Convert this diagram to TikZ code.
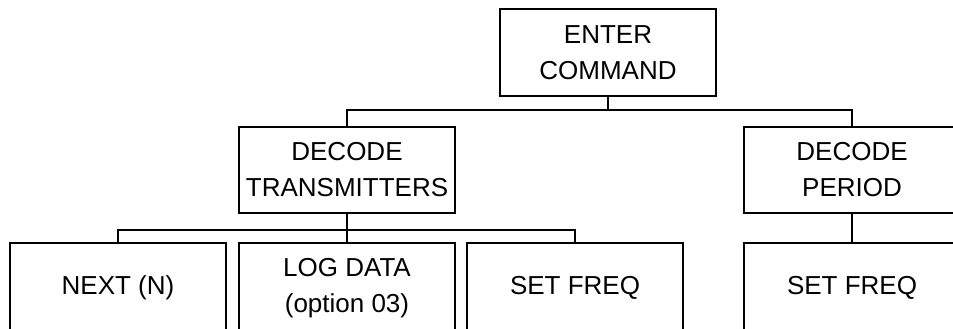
\documentclass[tikz,border=0pt]{standalone}
\usepackage{fontspec}
\setmainfont{Liberation Sans}
\usetikzlibrary{calc}

\tikzset{
    cmdbox/.style={draw,rectangle,line width=1.8pt,minimum width=216pt,minimum height=86pt,
        inner sep=0pt,align=center,font=\fontsize{26}{36}\selectfont},
    link/.style={line width=1.8pt}
}

\begin{document}
\begin{tikzpicture}[x=1pt,y=1pt]
    \useasboundingbox (0,0) rectangle (953,-329);
    \clip (0,0) rectangle (953,-329); % Clips the picture...

    % top level
    \node[cmdbox,minimum height=87pt] (enter) at (608,-52.5) {ENTER\\COMMAND};

    % second level
    \node[cmdbox] (dectx) at (347,-170) {DECODE\\TRANSMITTERS};
    \node[cmdbox] (decper) at (852,-170) {DECODE\\PERIOD};

    % third level (bottom edges run off the page)
    \node[cmdbox,minimum height=90pt] (next) at (118,-288) {NEXT (N)};
    \node[cmdbox,minimum height=90pt] (logdata) at (347,-288) {LOG DATA\\(option 03)};
    \node[cmdbox,minimum height=90pt] (setfreqa) at (575,-288) {SET FREQ};
    \node[cmdbox,minimum height=90pt] (setfreqb) at (852,-288) {SET FREQ};

    \coordinate (busa) at ($(enter.south)+(0,-13)$);
    \coordinate (busb) at ($(dectx.south)+(0,-16)$);

    \draw[link] (enter.south) -- (busa) -| (dectx.north);
    \draw[link] (busa) -| (decper.north);
   	\foreach \n in {next,logdata,setfreqa}{
   		\draw[link] (dectx.south) -- (busb) -| (\n.north);
   	}
    \draw[link] (decper.south) -- (setfreqb.north);
\end{tikzpicture}
\end{document}
